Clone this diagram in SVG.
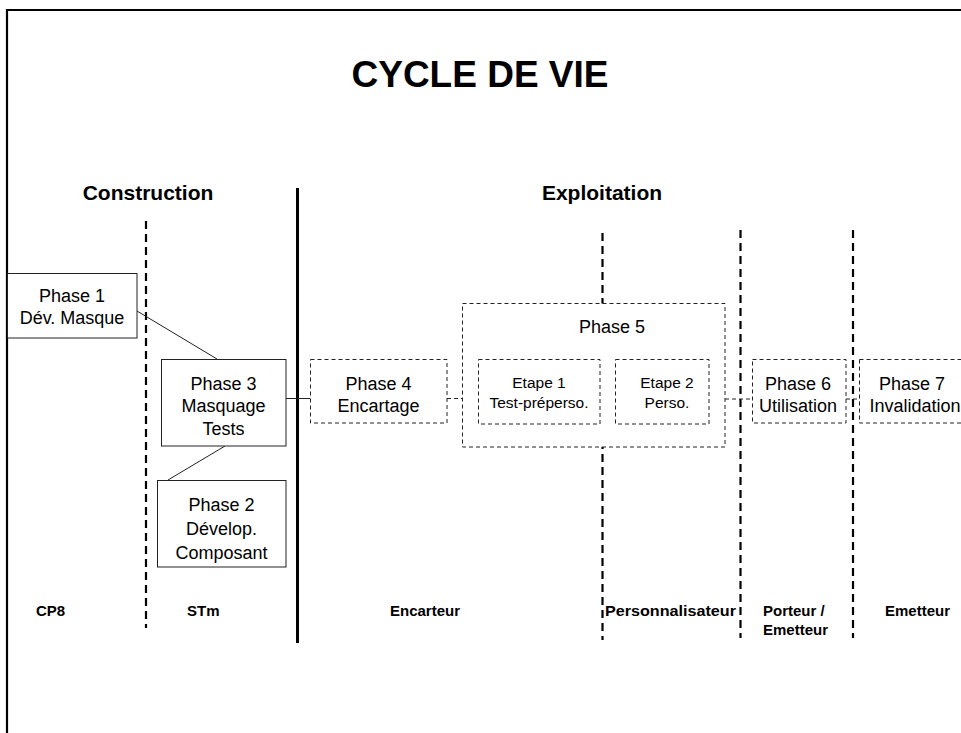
<svg xmlns="http://www.w3.org/2000/svg" width="961" height="733" viewBox="0 0 961 733">
<style>
  text { font-family: "Liberation Sans", Arial, sans-serif; fill: #000; }
  .title { font-size: 37px; font-weight: bold; text-anchor: middle; }
  .head { font-size: 21px; font-weight: bold; text-anchor: middle; }
  .ph { font-size: 18px; text-anchor: middle; }
  .et { font-size: 15.5px; text-anchor: middle; }
  .lab { font-size: 15px; font-weight: bold; }
  .box { fill: #fff; stroke: #222; stroke-width: 1; }
  .dbox { fill: #fff; stroke: #222; stroke-width: 1; stroke-dasharray: 4 3; }
  .sep { stroke: #000; stroke-width: 2.2; stroke-dasharray: 8 5; fill: none; }
  .wall { stroke: #000; stroke-width: 3; fill: none; }
  .conn { stroke: #222; stroke-width: 1; fill: none; }
  .dconn { stroke: #222; stroke-width: 1; stroke-dasharray: 4 3; fill: none; }
</style>
<rect x="0" y="0" width="961" height="733" fill="#fff"/>
<!-- frame -->
<path d="M7 733 V10 H961" fill="none" stroke="#000" stroke-width="2.2"/>
<text class="title" x="480" y="87">CYCLE DE VIE</text>
<text class="head" x="148" y="200">Construction</text>
<text class="head" x="602" y="200">Exploitation</text>

<g id="separators">
  <line class="sep" x1="146" y1="221" x2="146" y2="628"/>
  <line class="wall" x1="297.5" y1="188" x2="297.5" y2="643"/>
  <line class="sep" x1="602.5" y1="233" x2="602.5" y2="640"/>
  <line class="sep" x1="740.5" y1="230" x2="740.5" y2="638"/>
  <line class="sep" x1="853" y1="230" x2="853" y2="638"/>
</g>

<g id="connectors">
  <line class="conn" x1="137" y1="311" x2="217" y2="359"/>
  <line class="conn" x1="225" y1="446" x2="168" y2="480"/>
  <line class="conn" x1="286" y1="398.5" x2="310" y2="398.5"/>
  <line class="dconn" x1="447" y1="398.5" x2="462" y2="398.5"/>
  <line class="dconn" x1="600" y1="398.5" x2="615" y2="398.5"/>
  <line class="dconn" x1="725" y1="399" x2="752" y2="399"/>
  <line class="dconn" x1="846" y1="399" x2="859" y2="399"/>
</g>

<g id="phase1">
  <rect class="box" x="7.5" y="273.5" width="129.5" height="64.5"/>
  <text class="ph" x="72" y="302">Phase 1</text>
  <text class="ph" x="72" y="324">Dév. Masque</text>
</g>
<g id="phase3">
  <rect class="box" x="161.5" y="359.5" width="124.5" height="86.5"/>
  <text class="ph" x="223.5" y="390">Phase 3</text>
  <text class="ph" x="223.5" y="412">Masquage</text>
  <text class="ph" x="223.5" y="435">Tests</text>
</g>
<g id="phase2">
  <rect class="box" x="157.5" y="480.5" width="128.5" height="86.5"/>
  <text class="ph" x="221.5" y="511">Phase 2</text>
  <text class="ph" x="221.5" y="535">Dévelop.</text>
  <text class="ph" x="221.5" y="559">Composant</text>
</g>
<g id="phase4">
  <rect class="dbox" x="310.5" y="359.5" width="136.5" height="63.5"/>
  <text class="ph" x="378.5" y="390">Phase 4</text>
  <text class="ph" x="378.5" y="412">Encartage</text>
</g>
<g id="phase5">
  <rect class="dbox" x="462.5" y="303.5" width="262.5" height="143.5"/>
  <text class="ph" x="612" y="333">Phase 5</text>
</g>
<g id="etape1">
  <rect class="dbox" x="478.5" y="359.5" width="121.5" height="64.5"/>
  <text class="et" x="539" y="388">Etape 1</text>
  <text class="et" x="539" y="408">Test-préperso.</text>
</g>
<g id="etape2">
  <rect class="dbox" x="615.5" y="359.5" width="93.5" height="64.5"/>
  <text class="et" x="667" y="388">Etape 2</text>
  <text class="et" x="667" y="408">Perso.</text>
</g>
<g id="phase6">
  <rect class="dbox" x="752.5" y="359.5" width="93.5" height="63.5"/>
  <text class="ph" x="798" y="390">Phase 6</text>
  <text class="ph" x="798" y="412">Utilisation</text>
</g>
<g id="phase7">
  <rect class="dbox" x="859.5" y="359.5" width="110" height="63.5"/>
  <text class="ph" x="912" y="390">Phase 7</text>
  <text class="ph" x="915" y="412">Invalidation</text>
</g>

<g id="labels">
  <text class="lab" x="36" y="616">CP8</text>
  <text class="lab" x="187" y="616">STm</text>
  <text class="lab" x="390" y="616">Encarteur</text>
  <text class="lab" x="605" y="616" textLength="131" lengthAdjust="spacingAndGlyphs">Personnalisateur</text>
  <text class="lab" x="763" y="616">Porteur /</text>
  <text class="lab" x="763" y="635">Emetteur</text>
  <text class="lab" x="885" y="616">Emetteur</text>
</g>
</svg>
